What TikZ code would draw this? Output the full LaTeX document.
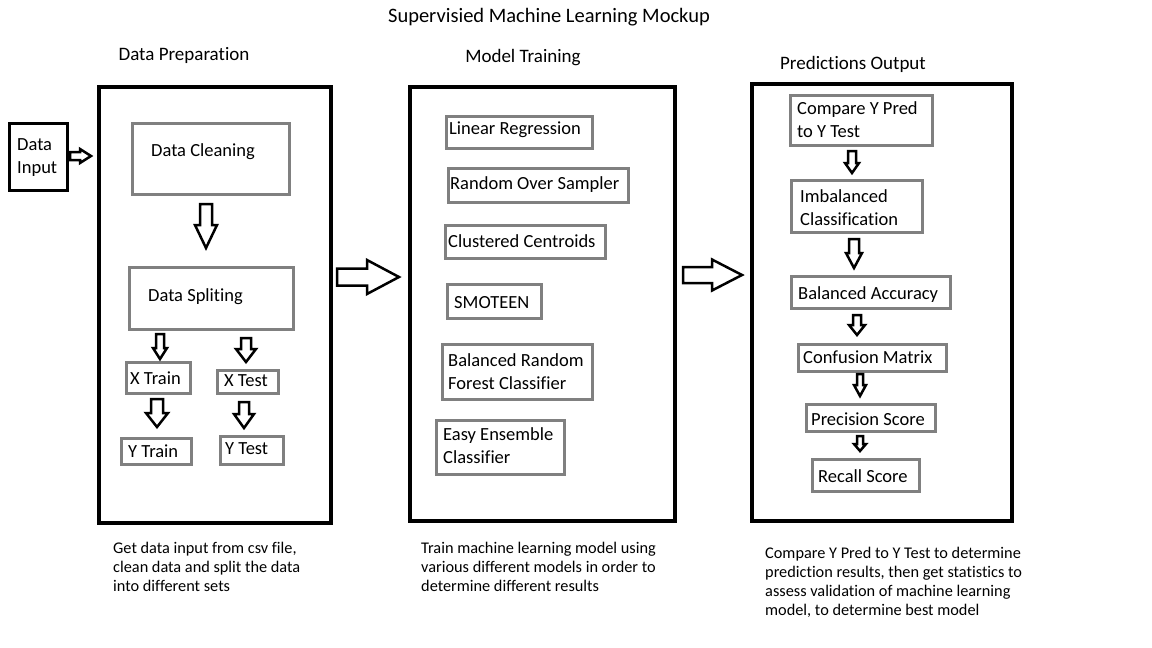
\documentclass[tikz,border=0pt]{standalone}
\usepackage{fontspec}
\setmainfont{Carlito}[Ligatures=NoCommon]
\definecolor{boxgray}{RGB}{128,128,128}
\tikzset{
  bigbox/.style={draw=black, line width=4pt, inner sep=0pt, anchor=north west},
  inbox/.style={draw=black, line width=3pt, inner sep=0pt, anchor=north west},
  gbox/.style={draw=boxgray, line width=3pt, inner sep=0pt, anchor=north west},
  lbl/.style={font=\fontsize{18.5}{23}\selectfont, inner sep=0pt, align=left, anchor=west, yshift=-1.5pt},
  ttl/.style={font=\fontsize{19}{23}\selectfont, inner sep=0pt},
  mainttl/.style={font=\fontsize{20.5}{24}\selectfont, inner sep=0pt},
  captext/.style={font=\fontsize{16.3}{19}\selectfont, inner sep=0pt, align=left, anchor=west},
  barrow/.style={draw=black, line width=2.5pt, fill=white, line join=miter},
}
% box: name, x1, y1, x2, y2, style
\newcommand\mybox[6]{\node[#6, minimum width=#4pt-#2pt, minimum height=#5pt-#3pt] (#1) at (#2,#3) {};}
% down block arrow: cx, ytop, ybot, shaft half, head half, head start
\newcommand\darr[6]{\draw[barrow] (#1-#4,#2) -- (#1+#4,#2) -- (#1+#4,#6) -- (#1+#5,#6) -- (#1,#3) -- (#1-#5,#6) -- (#1-#4,#6) -- cycle;}
% right block arrow: cy, xleft, xright, shaft half, head half, head start
\newcommand\rarr[6]{\draw[barrow] (#2,#1-#4) -- (#6,#1-#4) -- (#6,#1-#5) -- (#3,#1) -- (#6,#1+#5) -- (#6,#1+#4) -- (#2,#1+#4) -- cycle;}
\begin{document}
\begin{tikzpicture}[x=1pt,y=-1pt]
\useasboundingbox (0,0) rectangle (1152,648);
\fill[white] (0,0) rectangle (1152,648);

% titles
\node[mainttl] (title) at (549,17) {Supervisied Machine Learning Mockup};
\node[ttl] (tprep) at (184,55) {Data Preparation};
\node[ttl] (ttrain) at (523,58) {Model Training};
\node[ttl] (tpred) at (853,64) {Predictions Output};

% big boxes
\mybox{input}{8}{122}{66}{189}{inbox}
\mybox{prep}{97}{85}{329}{521}{bigbox}
\mybox{train}{408}{85}{673}{519}{bigbox}
\mybox{pred}{750}{82}{1010}{519}{bigbox}
\node[lbl] (inputt) at (17,156) {Data\\Input};

% data preparation
\mybox{clean}{131}{122}{288}{193}{gbox}
\node[lbl] (cleant) at (151,150) {Data Cleaning};
\mybox{split}{128}{266}{292}{328}{gbox}
\node[lbl] (splitt) at (148,295) {Data Spliting};
\mybox{xtrain}{125}{361}{189}{392}{gbox}
\node[lbl] (xtraint) at (130,377) {X Train};
\mybox{xtest}{216}{369}{277}{392}{gbox}
\node[lbl] (xtestt) at (224,379) {X Test};
\mybox{ytrain}{120}{437}{190}{463}{gbox}
\node[lbl] (ytraint) at (128,450) {Y Train};
\mybox{ytest}{219}{435}{282}{463}{gbox}
\node[lbl] (ytestt) at (225,447) {Y Test};

% model training
\mybox{lr}{445}{115}{591}{147}{gbox}
\node[lbl] (lrt) at (449,128) {Linear Regression};
\mybox{ros}{447}{167}{627}{201}{gbox}
\node[lbl] (rost) at (450,183) {Random Over Sampler};
\mybox{cc}{444}{224}{604}{257}{gbox}
\node[lbl] (cct) at (448,240) {Clustered Centroids};
\mybox{smo}{446}{283}{540}{317}{gbox}
\node[lbl] (smot) at (454,301) {SMOTEEN};
\mybox{brf}{441}{343}{591}{398}{gbox}
\node[lbl] (brft) at (448,370) {Balanced Random\\Forest Classifier};
\mybox{eec}{435}{419}{563}{473}{gbox}
\node[lbl] (eect) at (443,444) {Easy Ensemble\\Classifier};

% predictions
\mybox{cmp}{789}{94}{931}{144}{gbox}
\node[lbl] (cmpt) at (797,118) {Compare Y Pred\\to Y Test};
\mybox{imb}{790}{179}{921}{231}{gbox}
\node[lbl] (imbt) at (800,206) {Imbalanced\\Classification};
\mybox{bacc}{790}{275}{949}{307}{gbox}
\node[lbl] (bacct) at (798,293) {Balanced Accuracy};
\mybox{conf}{797}{343}{945}{370}{gbox}
\node[lbl] (conft) at (803,356) {Confusion Matrix};
\mybox{prec}{805}{403}{934}{430}{gbox}
\node[lbl] (prect) at (811,418) {Precision Score};
\mybox{rec}{811}{458}{918}{490}{gbox}
\node[lbl] (rect) at (818,475) {Recall Score};

% block arrows
\rarr{156}{70}{91}{4}{7}{80}
\darr{206}{204}{248}{6}{11}{225}
\darr{160}{334}{359}{4}{7}{348}
\darr{246}{338}{362}{5}{10}{349}
\darr{157}{399}{427}{6}{11}{413}
\darr{244}{402}{428}{5}{10}{414}
\rarr{277}{337}{399}{8.5}{17}{367}
\rarr{275}{683}{742}{8}{15.5}{712}
\darr{852}{151}{173}{4}{7}{163}
\darr{854}{239}{268}{5}{8}{253}
\darr{857}{315}{335}{4}{8}{325}
\darr{860}{374}{396}{3}{6}{385}
\darr{860}{436}{451}{3}{6}{444}

% captions
\node[captext] (cap1) at (113,566.5) {Get data input from csv file,\\clean data and split the data\\into different sets};
\node[captext] (cap2) at (421,567) {Train machine learning model using\\various different models in order to\\determine different results};
\node[captext] (cap3) at (765,582) {Compare Y Pred to Y Test to determine\\prediction results, then get statistics to\\assess validation of machine learning\\model, to determine best model};
\end{tikzpicture}
\end{document}
